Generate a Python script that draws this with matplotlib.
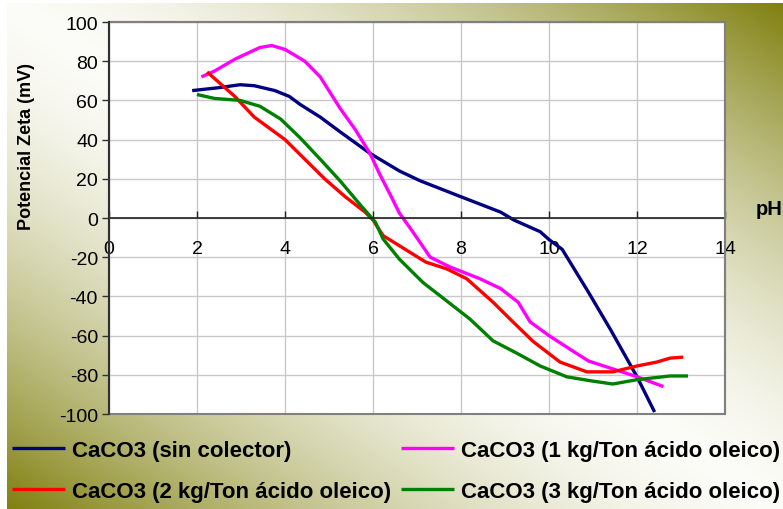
import numpy as np
import matplotlib
matplotlib.use("Agg")
import matplotlib.pyplot as plt
from matplotlib.patches import Rectangle

plt.rcParams['font.family'] = ['Liberation Sans', 'DejaVu Sans']
plt.rcParams['axes.unicode_minus'] = False

# --- zeta potential vs pH ---
ph_sin = [1.89, 2.5, 2.98, 3.3, 3.77, 4.1, 4.34, 4.8, 5.25, 5.93, 6.6, 7.07,
          7.98, 8.9, 9.2, 9.8, 10.0, 10.3, 10.9, 11.4, 12.0, 12.4]
zeta_sin = [65, 66.5, 68, 67.5, 65, 62, 58, 51.5, 44, 33, 24, 19,
            11, 3, -1, -7, -11, -16, -38, -57, -81, -99]

ph_1kg = [2.1, 2.4, 2.86, 3.43, 3.7, 4.0, 4.45, 4.8, 5.25, 5.6, 5.93, 6.16, 6.39,
          6.6, 6.89, 7.3, 7.75, 8.43, 8.9, 9.3, 9.57, 10.0, 10.48, 10.9, 11.45, 12.0, 12.6]
zeta_1kg = [72, 75, 81, 87, 88, 86, 80, 72, 56, 45, 33, 22, 12,
            2.5, -6.6, -20, -25, -31, -36, -43, -53, -60, -67, -73, -77, -81, -86]

ph_2kg = [2.23, 2.86, 3.3, 4.0, 4.45, 4.9, 5.36, 5.82, 6.0, 6.23, 6.84, 7.2,
          7.68, 8.13, 8.73, 9.18, 9.64, 10.25, 10.86, 11.45, 12.0, 12.45, 12.75, 13.05]
zeta_2kg = [74.5, 62, 51.5, 40, 30, 20, 11, 3, -1, -9, -17.5, -22.5,
            -26, -31, -43, -53, -63, -73.5, -78.5, -78.5, -75.5, -73.5, -71.5, -71]

ph_3kg = [2.0, 2.4, 2.98, 3.43, 3.9, 4.34, 4.8, 5.25, 5.7, 6.05, 6.23, 6.6,
          7.14, 7.6, 8.2, 8.73, 9.27, 9.8, 10.4, 10.93, 11.45, 12.0, 12.75, 13.16]
zeta_3kg = [63, 61, 60, 57, 50.5, 41, 30, 19, 7, -2, -10.7, -21,
            -33, -41, -51.5, -62.7, -69, -75.5, -81, -83, -84.7, -82.5, -80.6, -80.6]

labels = ['CaCO3 (sin colector)', 'CaCO3 (1 kg/Ton ácido oleico)',
          'CaCO3 (2 kg/Ton ácido oleico)', 'CaCO3 (3 kg/Ton ácido oleico)']
colors = ['#000080', '#ff00ff', '#ff0000', '#008000']

x_ticks = list(range(0, 15, 2))
y_ticks = list(range(-100, 101, 20))

fig = plt.figure(figsize=(7.83, 5.10), dpi=100)

# olive/white diagonal background
bg = fig.add_axes([7 / 783, 0, 1 - 7 / 783, 1 - 4 / 510], zorder=-10)
ny, nx = np.mgrid[0:1:300j, 0:1:460j]
t = np.abs(nx - ny) ** 1.6
white = np.array([252, 252, 248]) / 255
olive = np.array([128, 128, 16]) / 255
img = white[None, None, :] * (1 - t[..., None]) + olive[None, None, :] * t[..., None]
bg.imshow(img, aspect='auto', extent=[0, 1, 1, 0])
bg.axis('off')

ax = fig.add_axes([109 / 783, 1 - 415 / 510, 616 / 783, 392 / 510])
ax.set_facecolor('white')
ax.set_xlim(0, 14)
ax.set_ylim(-100, 100)
ax.set_xticks(x_ticks)
ax.set_yticks(y_ticks)
ax.grid(True, color='#c8c8c8', linewidth=1)
ax.set_axisbelow(True)

series = [(ph_sin, zeta_sin), (ph_1kg, zeta_1kg), (ph_2kg, zeta_2kg), (ph_3kg, zeta_3kg)]
handles = []
for (px, pz), c, lab in zip(series, colors, labels):
    h, = ax.plot(px, pz, color=c, linewidth=2.4, label=lab, solid_capstyle='butt')
    handles.append(h)

# frame: gray box, dark y axis, x axis crossing at zero
for s in ['top', 'right']:
    ax.spines[s].set_color('#808080')
    ax.spines[s].set_linewidth(1.5)
ax.add_patch(Rectangle((0, 0), 1, 1, transform=ax.transAxes, fill=False,
                       edgecolor='#808080', linewidth=1.5, zorder=5, clip_on=False))
ax.spines['left'].set_color('#303030')
ax.spines['left'].set_linewidth(1.5)
ax.spines['left'].set_zorder(6)
ax.spines['bottom'].set_position(('data', 0))
ax.spines['bottom'].set_color('#202020')
ax.spines['bottom'].set_linewidth(1.2)

ax.tick_params(axis='y', direction='out', length=5, width=1, color='#303030',
               labelsize=14, pad=3)
ax.tick_params(axis='x', direction='in', length=5, width=1, color='#202020',
               labelsize=14, pad=16)

fig.text(27 / 783, 1 - 147 / 510, 'Potencial Zeta (mV)', rotation=90,
         ha='center', va='center', fontsize=13, fontweight='bold')
fig.text(769 / 783, 1 - 210 / 510, 'pH', ha='center', va='center',
         fontsize=14.5, fontweight='bold')

leg = fig.legend([handles[0], handles[2], handles[1], handles[3]],
                 [labels[0], labels[2], labels[1], labels[3]],
                 ncol=2, loc='upper left', bbox_to_anchor=(12 / 783, 1 - 441 / 510),
                 frameon=False, borderpad=0, borderaxespad=0,
                 handlelength=2.4, handletextpad=0.3, columnspacing=0.45,
                 labelspacing=0.9, prop={'weight': 'bold', 'size': 16})

fig.savefig('out.png', dpi=100)
